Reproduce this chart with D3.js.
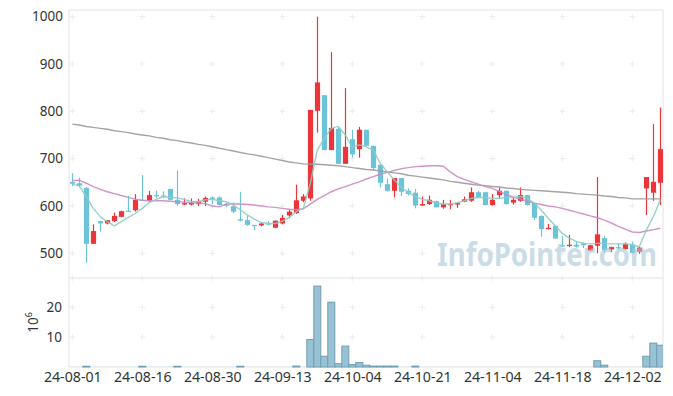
<!DOCTYPE html>
<html>
<head>
<meta charset="utf-8">
<script src="https://cdn.jsdelivr.net/npm/d3@7"></script>
<style>
  body { margin: 0; background: #fff; }
  svg text { font-family: "Noto Sans", "DejaVu Sans", sans-serif; }
</style>
</head>
<body>
<div id="chart"></div>
<script>
// trading days, 24-08-01 .. 24-12-06
var dates = [
  "24-08-01","24-08-02","24-08-05","24-08-06","24-08-07","24-08-08","24-08-09","24-08-12","24-08-13","24-08-14",
  "24-08-16","24-08-19","24-08-20","24-08-21","24-08-22","24-08-23","24-08-26","24-08-27","24-08-28","24-08-29",
  "24-08-30","24-09-02","24-09-03","24-09-04","24-09-05","24-09-06","24-09-09","24-09-10","24-09-11","24-09-12",
  "24-09-13","24-09-19","24-09-20","24-09-23","24-09-24","24-09-25","24-09-26","24-09-27","24-09-30","24-10-02",
  "24-10-04","24-10-07","24-10-08","24-10-10","24-10-11","24-10-14","24-10-15","24-10-16","24-10-17","24-10-18",
  "24-10-21","24-10-22","24-10-23","24-10-24","24-10-25","24-10-28","24-10-29","24-10-30","24-10-31","24-11-01",
  "24-11-04","24-11-05","24-11-06","24-11-07","24-11-08","24-11-11","24-11-12","24-11-13","24-11-14","24-11-15",
  "24-11-18","24-11-19","24-11-20","24-11-21","24-11-22","24-11-25","24-11-26","24-11-27","24-11-28","24-11-29",
  "24-12-02","24-12-03","24-12-04","24-12-05","24-12-06"];

var open = [651,648,638,520,568,563,568,577,590,591, 613,611,623,622,636,613,603,603,604,609,
  618,618,603,599,572,570,560,559,563,554, 563,580,585,611,616,801,834,718,763,689,
  741,720,761,727,687,646,632,659,632,628, 601,604,610,597,603,603,609,611,629,629,
  602,623,632,607,611,623,606,579,551,558, 517,516,518,521,506,516,532,508,513,509,
  518,503,637,628,649];
var high = [669,660,640,561,568,570,586,590,621,625, 665,632,632,631,636,675,616,616,615,620,
  620,620,606,607,630,580,560,566,568,569, 581,592,645,625,803,1000,834,925,766,849,
  761,767,761,727,687,658,659,659,637,636, 620,622,611,613,613,608,620,639,632,630,
  625,639,633,618,639,624,606,580,562,558, 537,539,525,523,518,661,537,514,521,523,
  525,514,661,773,808];
var low = [642,640,480,520,546,561,566,576,588,588, 610,608,617,617,612,600,602,601,600,600,
  604,601,598,585,567,558,549,557,559,553, 561,574,583,608,611,755,718,718,689,689,
  702,702,727,676,639,630,618,621,622,595, 600,602,597,594,593,596,608,609,617,601,
  601,615,603,603,609,601,570,535,550,531, 513,513,512,511,505,500,501,503,508,508,
  500,499,581,611,602];
var close = [647,643,520,547,563,570,579,589,589,613, 611,623,621,621,613,604,606,607,610,617,
  615,602,602,588,569,560,559,563,562,569, 575,588,612,620,803,861,718,765,689,725,
  709,761,727,680,649,632,659,630,625,601, 604,613,597,604,604,606,614,629,618,602,
  613,632,604,613,623,602,575,551,554,531, 515,518,514,517,517,540,507,513,511,520,
  501,512,661,651,720];

// moving averages
var ma5 = [646,642,620,595,577,567,558,567,576,584, 595,607,614,620,618,617,614,609,609,613,
  614,611,609,602,592,581,572,565,563,563, 568,576,588,595,648,718,743,764,768,750,
  724,729,725,718,690,672,655,639,629,620, 614,611,606,604,604,607,611,616,618,618,
  616,616,618,618,620,616,606,591,574,558, 542,532,525,521,520,521,521,520,520,520,
  518,514,549,577,613];
var ma20 = [654,654,648,641,635,630,626,622,618,614, 612,611,611,611,610,609,608,607,606,605,
  600,598,604,604,604,603,602,600,598,597, 595,593,592,594,604,614,622,630,636,641,
  646,651,657,662,667,671,675,679,681,683, 684,685,685,684,672,662,656,651,646,641,
  637,631,624,619,615,610,606,603,600,598, 595,591,587,583,579,575,570,564,557,551,
  545,544,547,550,553];
var ma120 = [773,771,768,766,764,762,759,757,755,752, 750,748,745,743,740,738,735,733,730,728,
  725,722,719,716,713,710,708,705,702,699, 696,693,691,689,688,688,687,686,685,683,
  681,679,677,676,674,672,670,668,665,663, 661,659,657,655,652,650,648,646,644,643,
  641,640,638,637,635,634,633,632,631,630, 629,628,626,625,624,623,621,620,618,617,
  615,615,615,615,615];

// volume, millions of shares
var volume = [0.03,0.03,0.25,0.03,0.03,0.03,0.03,0.03,0.03,0.03, 0.25,0.03,0.03,0.03,0.03,0.25,0.03,0.03,0.03,0.03,
  0.03,0.03,0.03,0.03,0.25,0.03,0.03,0.03,0.03,0.03, 0.03,0.03,0.3,0.03,9.2,27.1,3.6,21.7,1.1,7.0,
  0.8,1.5,0.6,0.3,0.3,0.3,0.3,0.03,0.03,0.3, 0.03,0.03,0.03,0.03,0.03,0.03,0.03,0.03,0.03,0.03,
  0.03,0.03,0.03,0.03,0.03,0.03,0.03,0.03,0.03,0.03, 0.03,0.03,0.03,0.03,0.03,2.1,0.6,0.03,0.03,0.03,
  0.03,0.03,3.6,8.0,7.3];

var priceTicks = [500,600,700,800,900,1000];
var volTicks = [10,20];
var dateTicks = [0,10,20,30,40,50,60,70,80];

var W = 673, H = 396,
	plotL = 69, plotR = 663,
	priceTop = 10, priceBot = 278,
	volTop = 278, volBot = 367;

var upColor = "#ec3539", downColor = "#6cc2d9";

var svg = d3.select("#chart").append("svg")
	.attr("width", W)
	.attr("height", H);

svg.append("defs").append("clipPath").attr("id", "clip")
	.append("rect").attr("x", plotL).attr("y", 0).attr("width", plotR - plotL).attr("height", H);

var x = d3.scaleLinear().domain([0, 84]).range([72.3, 660.3]);
var step = x(1) - x(0);
var yP = d3.scaleLinear().domain([447.8, 1014]).range([priceBot, priceTop]);
var yV = d3.scaleLinear().domain([0, 29.8]).range([volBot, volTop]);

var idx = d3.range(dates.length);

//frame
var frame = svg.append("g").attr("stroke", "#e3e3e3").attr("fill", "none");
frame.append("line").attr("x1", plotL).attr("x2", plotR).attr("y1", priceTop).attr("y2", priceTop);
frame.append("line").attr("x1", plotL).attr("x2", plotR).attr("y1", priceBot).attr("y2", priceBot);
frame.append("line").attr("x1", plotL).attr("x2", plotR).attr("y1", volBot).attr("y2", volBot);
frame.append("line").attr("x1", plotL).attr("x2", plotL).attr("y1", priceTop).attr("y2", volBot);
frame.append("line").attr("x1", plotR).attr("x2", plotR).attr("y1", priceTop).attr("y2", volBot);

//grid crosses
var crosses = [];
dateTicks.forEach(function(t) {
	priceTicks.forEach(function(p) { crosses.push([x(t), yP(p)]); });
	volTicks.forEach(function(v) { crosses.push([x(t), yV(v)]); });
	crosses.push([x(t), priceBot]);
});
svg.append("g").attr("stroke", "#ebebeb").selectAll("path")
	.data(crosses).enter().append("path")
	.attr("d", function(d) { return "M" + (d[0] - 3) + "," + d[1] + "h6M" + d[0] + "," + (d[1] - 3) + "v6"; });

var plot = svg.append("g").attr("clip-path", "url(#clip)");

//volume bars
plot.append("g").selectAll("rect")
	.data(idx).enter().append("rect")
	.attr("x", function(i) { return x(i) - step / 2; })
	.attr("width", step)
	.attr("y", function(i) { return yV(volume[i]); })
	.attr("height", function(i) { return volBot - yV(volume[i]); })
	.attr("fill", "#98c2d3")
	.attr("stroke", function(i) { return (volBot - yV(volume[i])) > 0.5 ? "#6f9fb6" : "none"; })
	.attr("stroke-width", 1);

//candles
var candle = plot.append("g").selectAll("g")
	.data(idx).enter().append("g");
candle.append("line")
	.attr("x1", function(i) { return Math.round(x(i)) + 0.5; })
	.attr("x2", function(i) { return Math.round(x(i)) + 0.5; })
	.attr("y1", function(i) { return yP(high[i]); })
	.attr("y2", function(i) { return yP(low[i]); })
	.attr("stroke", function(i) { return close[i] >= open[i] ? upColor : downColor; })
	.attr("stroke-width", 1.2);
candle.append("rect")
	.attr("x", function(i) { return Math.round(x(i)) + 0.5 - 2.6; })
	.attr("width", 5.2)
	.attr("y", function(i) { return yP(Math.max(open[i], close[i])); })
	.attr("height", function(i) { return Math.max(1.2, Math.abs(yP(open[i]) - yP(close[i]))); })
	.attr("fill", function(i) { return close[i] >= open[i] ? upColor : downColor; });

//moving averages
function maLine(arr, color) {
	plot.append("path")
		.datum(idx)
		.attr("fill", "none")
		.attr("stroke", color)
		.attr("stroke-width", 1.4)
		.attr("stroke-opacity", 0.9)
		.attr("d", d3.line().x(function(i) { return x(i); }).y(function(i) { return yP(arr[i]); }));
}
maLine(ma120, "#9a9a9a");
maLine(ma20, "#cb8ac4");
maLine(ma5, "#8dcdc2");

//watermark (on top, semi transparent)
svg.append("text")
	.attr("x", 437).attr("y", 266)
	.attr("font-size", 32)
	.attr("font-weight", "bold")
	.attr("textLength", 220)
	.attr("lengthAdjust", "spacingAndGlyphs")
	.attr("fill", "#a7c6d7")
	.attr("fill-opacity", 0.6)
	.text("InfoPointer.com");

//axes
var yAxisP = svg.append("g")
	.attr("transform", "translate(" + plotL + ",0)")
	.call(d3.axisLeft(yP).tickValues(priceTicks).tickFormat(d3.format("d")).tickSize(0).tickPadding(6));
var yAxisV = svg.append("g")
	.attr("transform", "translate(" + plotL + ",0)")
	.call(d3.axisLeft(yV).tickValues(volTicks).tickFormat(d3.format("d")).tickSize(0).tickPadding(7));
var xAxis = svg.append("g")
	.attr("transform", "translate(0," + volBot + ")")
	.call(d3.axisBottom(x).tickValues(dateTicks).tickFormat(function(i) { return dates[i]; }).tickSize(0).tickPadding(5));

[yAxisP, yAxisV].forEach(function(a) {
	a.select(".domain").remove();
	a.selectAll("text")
		.attr("fill", "#333")
		.style("font-family", "'Noto Sans', sans-serif")
		.attr("font-size", 13.5);
});
xAxis.select(".domain").remove();
xAxis.selectAll("text")
	.attr("fill", "#333")
	.style("font-family", "'Noto Sans', sans-serif")
	.attr("font-size", 14.2);

//unit label
var unit = svg.append("text")
	.attr("transform", "translate(38," + ((volTop + volBot) / 2) + ") rotate(-90)")
	.attr("text-anchor", "middle")
	.attr("fill", "#333")
	.attr("font-size", 13.5);
unit.append("tspan").text("10");
unit.append("tspan").attr("dy", -6).attr("font-size", 9).text("6");
</script>
</body>
</html>
